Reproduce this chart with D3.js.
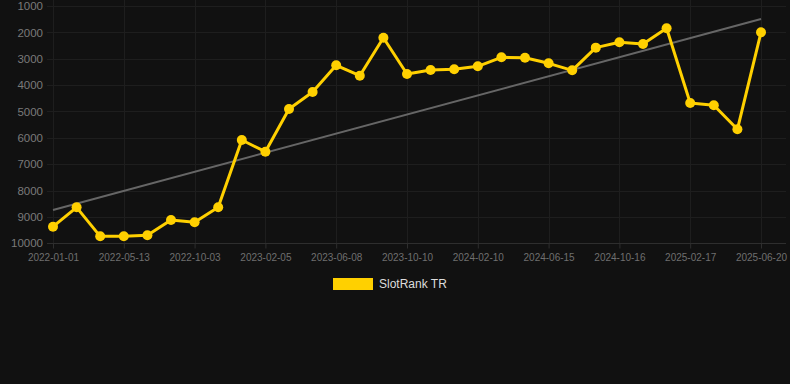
<!DOCTYPE html>
<html>
<head>
<meta charset="utf-8">
<script src="https://cdn.jsdelivr.net/npm/d3@7"></script>
<style>
  html, body { margin: 0; padding: 0; background: #111111; }
  svg { display: block; font-family: "Liberation Sans", Arial, sans-serif; }
</style>
</head>
<body>
<svg id="chart" width="790" height="384"></svg>
<script>
// ---- data ----
const categories = [
  "2022-01-01","2022-02-14","2022-03-30","2022-05-13","2022-06-28","2022-08-16",
  "2022-10-03","2022-11-13","2022-12-25","2023-02-05","2023-03-18","2023-04-28",
  "2023-06-08","2023-07-19","2023-08-29","2023-10-10","2023-11-20","2023-12-31",
  "2024-02-10","2024-03-22","2024-05-03","2024-06-15","2024-07-26","2024-09-05",
  "2024-10-16","2024-11-27","2025-01-07","2025-02-17","2025-03-31","2025-05-10",
  "2025-06-20"
];
const rankValues = [
  9370, 8636, 9736, 9736, 9698, 9117, 9205, 8636, 6083, 6526, 4907, 4262,
  3250, 3643, 2202, 3579, 3428, 3402, 3288, 2946, 2960, 3174, 3440, 2580,
  2378, 2441, 1846, 4679, 4767, 5677, 1998
];
const trendStartEnd = [8740, 1490];
const xTickLabels = ["2022-01-01","2022-05-13","2022-10-03","2023-02-05","2023-06-08",
  "2023-10-10","2024-02-10","2024-06-15","2024-10-16","2025-02-17","2025-06-20"];
const yTicks = [1000, 2000, 3000, 4000, 5000, 6000, 7000, 8000, 9000, 10000];
const seriesName = "SlotRank TR";

// ---- layout ----
const svg = d3.select("#chart");
const plotL = 47, plotR = 786, plotT = 6, plotB = 243.3;
const x = d3.scalePoint().domain(categories).range([53, 761]);
const y = d3.scaleLinear().domain([1000, 10000]).range([plotT, plotB]);

const gridColor = "#1e1e1e";

// horizontal grid
svg.append("g").selectAll("line").data(yTicks.slice(0, -1)).join("line")
  .attr("x1", plotL).attr("x2", plotR)
  .attr("y1", d => Math.round(y(d)) + 0.5).attr("y2", d => Math.round(y(d)) + 0.5)
  .attr("stroke", gridColor).attr("stroke-width", 1);

// vertical grid
svg.append("g").selectAll("line").data(xTickLabels).join("line")
  .attr("x1", d => Math.round(x(d)) + 0.5).attr("x2", d => Math.round(x(d)) + 0.5)
  .attr("y1", 0).attr("y2", plotB)
  .attr("stroke", gridColor).attr("stroke-width", 1);

// x axis
const xAxis = d3.axisBottom(x).tickValues(xTickLabels).tickSize(5).tickPadding(5);
const gx = svg.append("g").attr("transform", `translate(0,${Math.round(plotB) + 0.5})`).call(xAxis);
gx.select(".domain").attr("d", `M${plotL},0H${plotR}`).attr("stroke", "#2e2e2e");
gx.selectAll(".tick line").attr("stroke", "#2e2e2e");
gx.selectAll(".tick text").attr("fill", "#6f6f6f").attr("font-size", 10)
  .attr("font-family", "Liberation Sans, Arial, sans-serif");

// y axis
const yAxis = d3.axisLeft(y).tickValues(yTicks).tickSize(0).tickPadding(4).tickFormat(d3.format("d"));
const gy = svg.append("g").attr("transform", `translate(${plotL},0)`).call(yAxis);
gy.select(".domain").remove();
gy.selectAll(".tick text").attr("fill", "#7a7a7a").attr("font-size", 11.5)
  .attr("font-family", "Liberation Sans, Arial, sans-serif");

// trend line
svg.append("line")
  .attr("x1", x(categories[0])).attr("y1", y(trendStartEnd[0]))
  .attr("x2", x(categories[categories.length - 1])).attr("y2", y(trendStartEnd[1]))
  .attr("stroke", "#666666").attr("stroke-width", 2);

// series line
const pts = categories.map((c, i) => [x(c), y(rankValues[i])]);
svg.append("path")
  .attr("d", d3.line()(pts))
  .attr("fill", "none").attr("stroke", "#FFD000").attr("stroke-width", 3)
  .attr("stroke-linejoin", "round");

svg.append("g").selectAll("circle").data(pts).join("circle")
  .attr("cx", d => d[0]).attr("cy", d => d[1]).attr("r", 5)
  .attr("fill", "#FFD000");

// legend
const lg = svg.append("g");
lg.append("rect").attr("x", 333).attr("y", 278).attr("width", 40).attr("height", 12)
  .attr("fill", "#FFD000");
lg.append("text").attr("x", 379).attr("y", 284).attr("dy", "0.35em")
  .attr("fill", "#dddddd").attr("font-size", 12).text(seriesName);
</script>
</body>
</html>
